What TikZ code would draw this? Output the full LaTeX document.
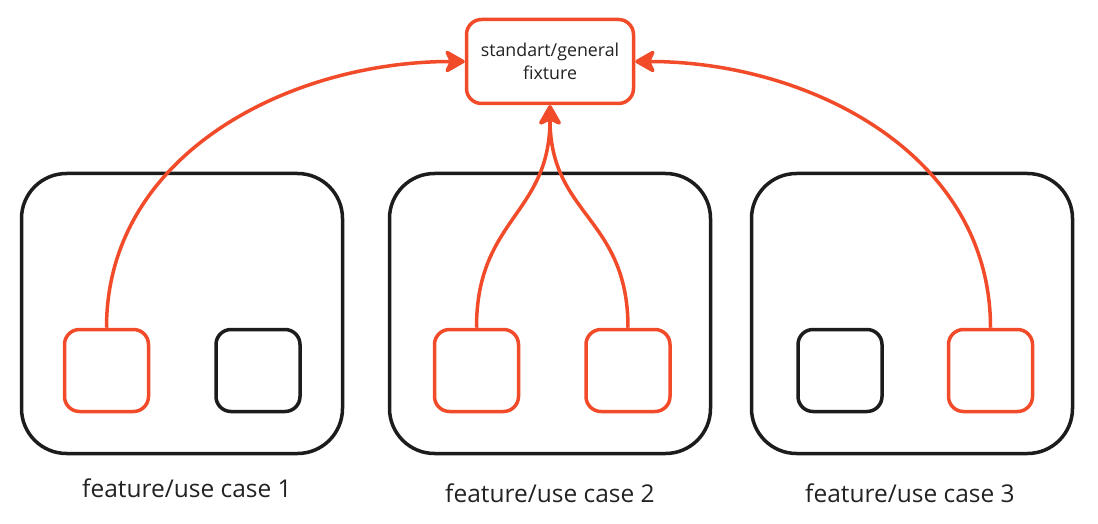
\documentclass[tikz,border=0pt]{standalone}
\usepackage{fontspec}
\setmainfont{Open Sans}
\usetikzlibrary{arrows.meta}
\definecolor{accent}{RGB}{242,75,42}
\definecolor{ink}{RGB}{28,28,28}
\definecolor{txt}{RGB}{34,34,34}
\begin{document}
\begin{tikzpicture}[x=1pt,y=1pt,
  bigbox/.style={draw=ink,line width=3.5pt,rounded corners=45pt,minimum width=321pt,minimum height=280pt,inner sep=0pt},
  redbox/.style={draw=accent,line width=3.5pt,rounded corners=15pt,minimum width=84pt,minimum height=82pt,inner sep=0pt},
  blackbox/.style={draw=ink,line width=3.5pt,rounded corners=15pt,minimum width=84pt,minimum height=82pt,inner sep=0pt},
  topbox/.style={draw=accent,line width=3.5pt,rounded corners=15pt,minimum width=167pt,minimum height=84pt,inner sep=0pt,align=center,font=\fontsize{17.8}{23}\selectfont,text=txt},
  lbl/.style={font=\fontsize{24.5}{28}\selectfont,text=txt,inner sep=0pt},
  link/.style={draw=accent,line width=3.5pt,-{Stealth[length=23pt,width=26pt,inset=6pt,round]}}
]
\useasboundingbox (0,0) rectangle (1098,523);
\node[topbox] (top) at (550,461.5) {standart/general\\fixture};
\node[bigbox] (g1) at (182,209.5) {};
\node[bigbox] (g2) at (550,209.5) {};
\node[bigbox] (g3) at (912,209.5) {};
\node[redbox] (a1) at (106.5,152.5) {};
\node[blackbox] (b1) at (258,152.5) {};
\node[redbox] (a2) at (476.5,152.5) {};
\node[redbox] (b2) at (628,152.5) {};
\node[blackbox] (a3) at (840,152.5) {};
\node[redbox] (b3) at (990.5,152.5) {};
\node[lbl] (l1) at (187,35) {feature/use case 1};
\node[lbl] (l2) at (550,30) {feature/use case 2};
\node[lbl] (l3) at (910,30) {feature/use case 3};
\draw[link] (a1.north) to[out=90,in=180] (top.west);
\draw[link] (b3.north) to[out=90,in=0] (top.east);
\draw[link] (a2.north) to[out=90,in=-90,looseness=1.2] (top.south);
\draw[link] (b2.north) to[out=90,in=-90,looseness=1.2] (top.south);
\end{tikzpicture}
\end{document}
